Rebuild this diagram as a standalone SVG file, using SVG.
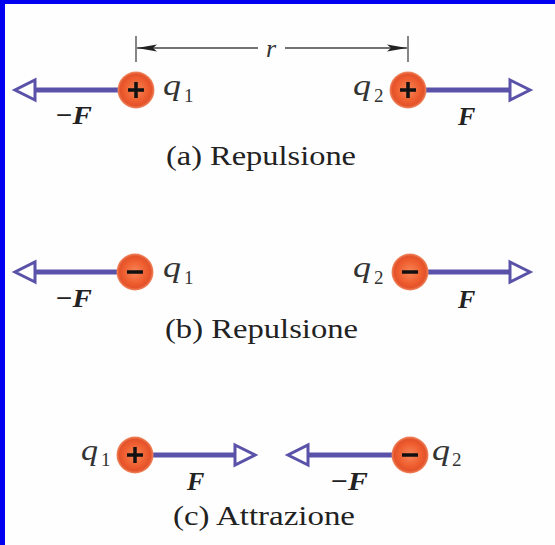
<svg xmlns="http://www.w3.org/2000/svg" width="555" height="545" viewBox="0 0 555 545">
<defs>
<radialGradient id="chg" cx="50%" cy="50%" r="50%">
<stop offset="0" stop-color="#f6875a"/>
<stop offset="0.6" stop-color="#ef5f30"/>
<stop offset="0.85" stop-color="#e4522a"/>
<stop offset="1" stop-color="#f08a62"/>
</radialGradient>
<marker id="open" markerUnits="userSpaceOnUse" markerWidth="30" markerHeight="30" refX="0" refY="0" orient="auto" overflow="visible">
<path d="M0,-10 L20,0 L0,10 Z" fill="#fff" stroke="#5a52a8" stroke-width="3"/>
</marker>
<marker id="dim" markerUnits="userSpaceOnUse" markerWidth="24" markerHeight="10" refX="20" refY="0" orient="auto" overflow="visible">
<path d="M0,-3.5 L20,0 L0,3.5 L4,0 Z" fill="#222"/>
</marker>
<style>
.force{stroke:#5a52a8;stroke-width:5;fill:none;marker-end:url(#open)}
.dim{stroke:#444;stroke-width:1.3;fill:none}
.charge circle{fill:url(#chg)}
.sign{stroke:#111;stroke-width:3.5;fill:none}
.q{font-style:italic;font-size:30px;fill:#333}
.sub{font-size:19px;fill:#333}
.f{font-style:italic;font-weight:bold;font-size:26px;fill:#222}
.lab{font-size:28px;fill:#222}
</style>
</defs>
<rect width="555" height="545" fill="#fefefe"/>
<rect x="0" y="0" width="555" height="4" fill="#0000f0"/>
<rect x="0" y="0" width="5" height="545" fill="#0000f0"/>

<g id="connectors">
<line class="dim" x1="136" y1="36" x2="136" y2="62"/>
<line class="dim" x1="408" y1="36" x2="408" y2="62"/>
<line class="dim" x1="258" y1="48" x2="137" y2="48" marker-end="url(#dim)"/>
<line class="dim" x1="285" y1="48" x2="407" y2="48" marker-end="url(#dim)"/>
<line class="force" x1="118" y1="90" x2="35" y2="90"/>
<line class="force" x1="426" y1="90" x2="510" y2="90"/>
<line class="force" x1="118" y1="272" x2="35" y2="272"/>
<line class="force" x1="426" y1="272" x2="510" y2="272"/>
<line class="force" x1="152" y1="455" x2="235" y2="455"/>
<line class="force" x1="393" y1="455" x2="308" y2="455"/>
</g>

<g font-family="Liberation Serif, serif">
<text x="271" y="57" class="q" style="font-size:26px" text-anchor="middle">r</text>

<g id="a-q1" class="charge">
<circle cx="136" cy="90" r="18.5"/>
<path class="sign" d="M128,90 H144 M136,82 V98"/>
<text class="q" x="163" y="95" textLength="18" lengthAdjust="spacingAndGlyphs">q</text><text class="sub" x="184" y="102">1</text>
</g>
<g id="a-q2" class="charge">
<circle cx="408" cy="90" r="18.5"/>
<path class="sign" d="M400,90 H416 M408,82 V98"/>
<text class="q" x="353" y="95" textLength="18" lengthAdjust="spacingAndGlyphs">q</text><text class="sub" x="374" y="102">2</text>
</g>
<text class="f" x="55" y="124" textLength="37" lengthAdjust="spacingAndGlyphs">−F</text>
<text class="f" x="458" y="125">F</text>
<text class="lab" x="166" y="165" textLength="190" lengthAdjust="spacingAndGlyphs">(a) Repulsione</text>

<g id="b-q1" class="charge">
<circle cx="135" cy="272" r="18.5"/>
<path class="sign" d="M127,272 H143" stroke-width="4"/>
<text class="q" x="163" y="277" textLength="18" lengthAdjust="spacingAndGlyphs">q</text><text class="sub" x="184" y="284">1</text>
</g>
<g id="b-q2" class="charge">
<circle cx="410" cy="272" r="18.5"/>
<path class="sign" d="M402,272 H418" stroke-width="4"/>
<text class="q" x="353" y="277" textLength="18" lengthAdjust="spacingAndGlyphs">q</text><text class="sub" x="374" y="284">2</text>
</g>
<text class="f" x="55" y="307" textLength="37" lengthAdjust="spacingAndGlyphs">−F</text>
<text class="f" x="458" y="308">F</text>
<text class="lab" x="165" y="338" textLength="193" lengthAdjust="spacingAndGlyphs">(b) Repulsione</text>

<g id="c-q1" class="charge">
<circle cx="135" cy="455" r="18.5"/>
<path class="sign" d="M127,455 H143 M135,447 V463"/>
<text class="q" x="81" y="460" textLength="17" lengthAdjust="spacingAndGlyphs">q</text><text class="sub" x="101" y="466">1</text>
</g>
<g id="c-q2" class="charge">
<circle cx="410" cy="455" r="18.5"/>
<path class="sign" d="M402,455 H418" stroke-width="4"/>
<text class="q" x="432" y="460" textLength="18" lengthAdjust="spacingAndGlyphs">q</text><text class="sub" x="452" y="466">2</text>
</g>
<text class="f" x="187" y="490">F</text>
<text class="f" x="330" y="490" textLength="38" lengthAdjust="spacingAndGlyphs">−F</text>
<text class="lab" x="173" y="525" textLength="182" lengthAdjust="spacingAndGlyphs">(c) Attrazione</text>
</g>
</svg>
